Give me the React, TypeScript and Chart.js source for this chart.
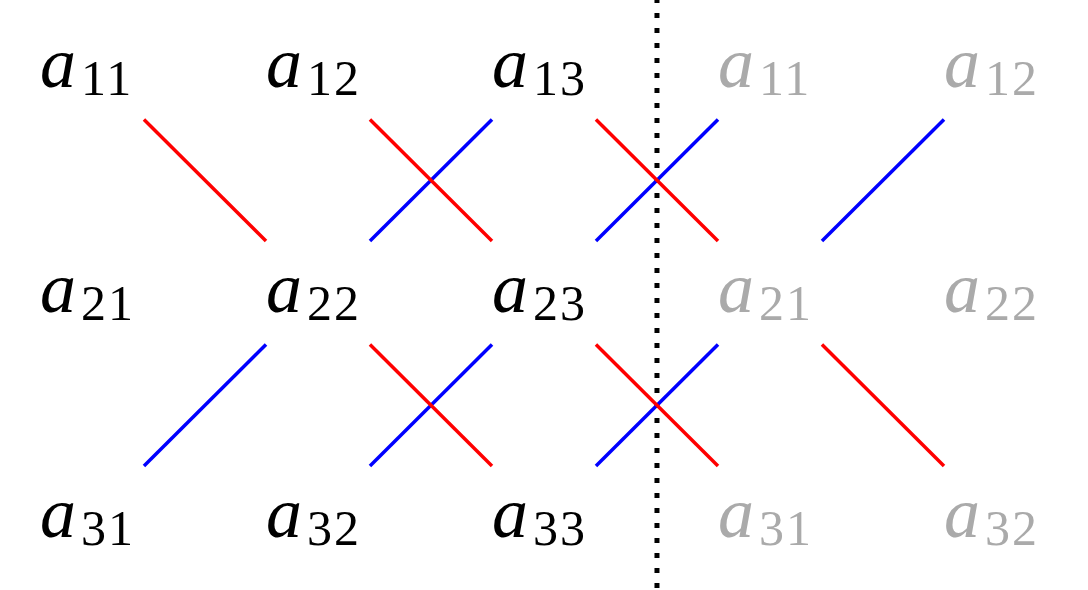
import { useEffect, useRef } from 'react';
import { Chart, registerables } from 'chart.js';

Chart.register(...registerables);

// matrix entries: [row, col, subscript, greyed]
const cells: [number, number, string, boolean][] = [
  [0, 0, '11', false], [0, 1, '12', false], [0, 2, '13', false], [0, 3, '11', true], [0, 4, '12', true],
  [1, 0, '21', false], [1, 1, '22', false], [1, 2, '23', false], [1, 3, '21', true], [1, 4, '22', true],
  [2, 0, '31', false], [2, 1, '32', false], [2, 2, '33', false], [2, 3, '31', true], [2, 4, '32', true],
];
// red diagonals go down-right from [row, col]; blue go up-right from [row+1, col]
const redStarts: [number, number][] = [[0, 0], [0, 1], [0, 2], [1, 1], [1, 2], [1, 3]];
const blueStarts: [number, number][] = [[0, 1], [0, 2], [0, 3], [1, 0], [1, 1], [1, 2]];
const divider = 2.73;

const labelPlugin = {
  id: 'labels',
  afterDatasetsDraw(chart: any) {
    const { ctx, scales } = chart;
    ctx.save();
    ctx.textBaseline = 'alphabetic';
    cells.forEach(([r, c, sub, grey]) => {
      const x = scales.x.getPixelForValue(c);
      const y = scales.y.getPixelForValue(r + 0.075);
      ctx.fillStyle = grey ? '#aaaaaa' : '#000000';
      ctx.font = 'italic 72px "Liberation Serif"';
      ctx.fillText('a', x, y);
      const w = ctx.measureText('a').width;
      ctx.font = '50px "Liberation Serif"';
      (ctx as any).letterSpacing = '2px';
      ctx.fillText(sub, x + w + 5, y + 8);
      (ctx as any).letterSpacing = '0px';
    });
    ctx.restore();
  },
};

export default function App() {
  const ref = useRef<HTMLCanvasElement>(null);

  useEffect(() => {
    document.body.style.margin = '0';
    if (!ref.current) return;
    const seg = (pts: { x: number; y: number }[], color: string, extra: any = {}) => ({
      data: pts, borderColor: color, borderWidth: 3.5, showLine: true, pointRadius: 0, ...extra,
    });
    const datasets: any[] = [
      ...redStarts.map(([r, c]) => seg([{ x: c + 0.46, y: r + 0.22 }, { x: c + 1, y: r + 0.76 }], '#ff0000')),
      ...blueStarts.map(([r, c]) => seg([{ x: c + 0.46, y: r + 0.76 }, { x: c + 1, y: r + 0.22 }], '#0000ff')),
      seg([{ x: divider, y: -0.32 }, { x: divider, y: 2.32 }], '#000000', { borderWidth: 5, borderDash: [5, 10] }),
    ];
    const chart = new Chart(ref.current, {
      type: 'scatter',
      data: { datasets },
      options: {
        animation: false,
        responsive: true,
        maintainAspectRatio: false,
        layout: { padding: 0 },
        plugins: { legend: { display: false }, tooltip: { enabled: false } },
        scales: {
          x: { type: 'linear', display: false, min: -40 / 226, max: 1048 / 226 },
          y: { type: 'linear', display: false, reverse: true, min: -70 / 225, max: 520 / 225 },
        },
      },
      plugins: [labelPlugin],
    });
    return () => chart.destroy();
  }, []);

  return (
    <div style={{ width: 1088, height: 590, background: '#fff' }}>
      <canvas ref={ref}></canvas>
    </div>
  );
}
